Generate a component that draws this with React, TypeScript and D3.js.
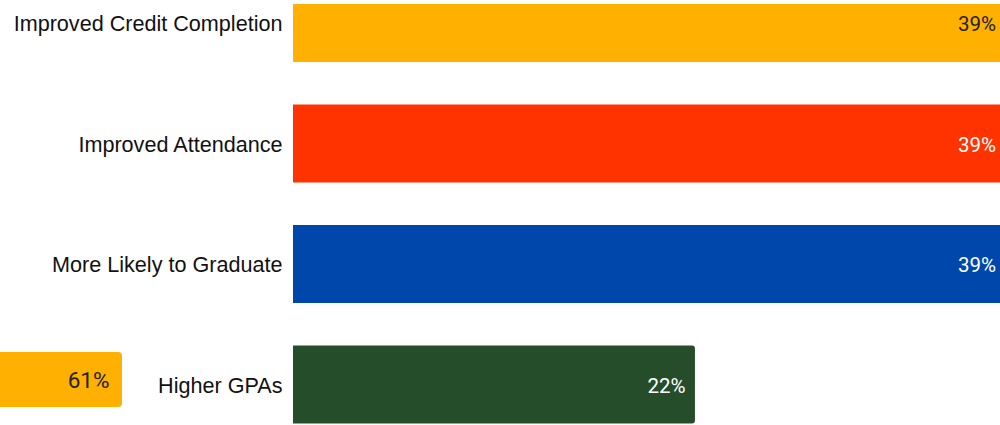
import React from "react";
import * as d3 from "d3";

const categories = [
  "Improved Credit Completion",
  "Improved Attendance",
  "More Likely to Graduate",
  "Higher GPAs",
];
const values = [39, 39, 39, 22];
const colors = ["#FFB000", "#FF3300", "#0047AB", "#264D2A"];
const valueTextColors = ["#222222", "#FFFFFF", "#FFFFFF", "#FFFFFF"];
const calloutValue = 61;
const calloutColor = "#FFB000";

const W = 1000;
const H = 425;

export default function App() {
  const x = d3.scaleLinear().domain([0, 100]).range([293, 293 + 1827]);
  const y = d3
    .scaleBand<string>()
    .domain(categories)
    .range([-16, 423.5])
    .paddingInner(42.5 / 120.5)
    .paddingOuter(0);
  const bw = y.bandwidth();

  return (
    <svg
      width={W}
      height={H}
      style={{ position: "absolute", left: 0, top: 0, display: "block" }}
    >
      <defs>
        <clipPath id="plotClip">
          <rect x={0} y={4} width={W} height={H - 4} />
        </clipPath>
      </defs>
      <rect x={0} y={0} width={W} height={H} fill="#fff" />
      <g clipPath="url(#plotClip)">
        {categories.map((c, i) => {
          const y0 = y(c)!;
          const x1 = x(values[i]);
          const cy = y0 + bw / 2;
          return (
            <g key={c}>
              <path
                d={`M${x(0)},${y0} H${x1 - 3} Q${x1},${y0} ${x1},${y0 + 3} V${
                  y0 + bw - 3
                } Q${x1},${y0 + bw} ${x1 - 3},${y0 + bw} H${x(0)} Z`}
                fill={colors[i]}
              />
              <text
                x={x1 - 9.5}
                y={cy}
                dy="0.4em"
                textAnchor="end"
                fontFamily="Roboto, sans-serif"
                fontSize={20.5}
                fill={valueTextColors[i]}
              >
                {values[i]}%
              </text>
              <text
                x={282.5}
                y={cy}
                dy="0.38em"
                textAnchor="end"
                fontFamily="'Liberation Sans', Arial, sans-serif"
                fontSize={21.6}
                fill="#111"
              >
                {c}
              </text>
            </g>
          );
        })}
      </g>
      <g>
        <rect x={-6} y={352} width={128} height={55} rx={4} fill={calloutColor} />
        <text
          x={109.5}
          y={379.5}
          dy="0.39em"
          textAnchor="end"
          fontFamily="Roboto, sans-serif"
          fontSize={22.5}
          fill="#222"
        >
          {calloutValue}%
        </text>
      </g>
    </svg>
  );
}
